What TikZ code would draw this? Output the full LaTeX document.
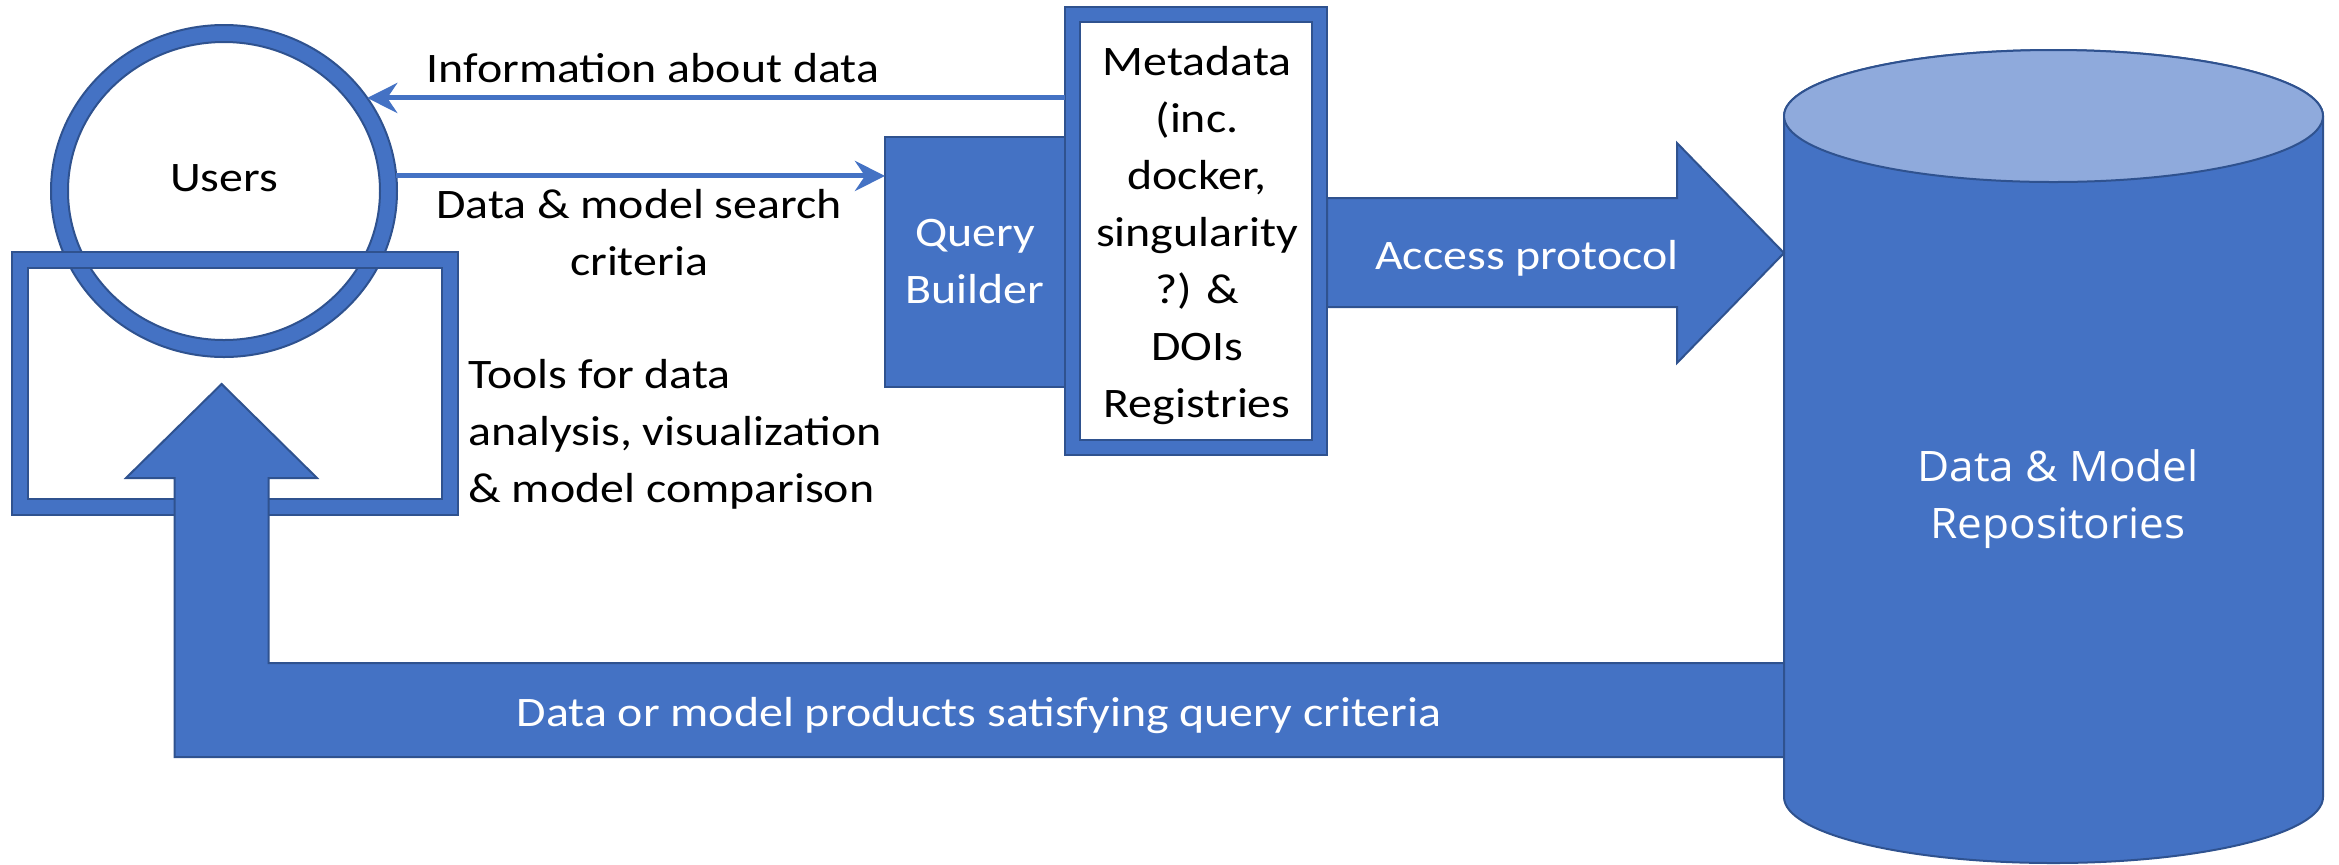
\documentclass[tikz,border=0pt]{standalone}
\usepackage{fontspec}
\setmainfont{Carlito}[FakeStretch=1.14]
\newfontfamily\segoefont{Open Sans}[FakeStretch=1.05]
\usetikzlibrary{arrows.meta,shapes.geometric,calc}
\definecolor{obl}{HTML}{4472C4}
\definecolor{odk}{HTML}{2F528F}
\definecolor{olt}{HTML}{8FAADC}
\begin{document}
\begin{tikzpicture}[x=0.5pt,y=-0.5pt,
  txt/.style={font=\fontsize{21}{28.5}\selectfont, align=center, inner sep=0pt},
  reptxt/.style={font=\segoefont\fontsize{21}{28.5}\selectfont, align=center, inner sep=0pt, text=white},
  thinarrow/.style={draw=obl, line width=2.5pt, -{Stealth[length=15pt,width=15pt,inset=5pt]}},
  blockshape/.style={fill=obl, draw=odk, line width=1pt},
  holder/.style={rectangle, inner sep=0pt, outer sep=0pt}
]
\useasboundingbox (0,0) rectangle (2339,864);

% Users ring
\node[ellipse, minimum width=173pt, minimum height=166pt, inner sep=0pt, outer sep=0pt] (users) at (224,191) {};
\draw[blockshape, even odd rule] (users.center) ellipse [x radius=86.5pt, y radius=83pt]
      (users.center) ellipse [x radius=78pt, y radius=74.5pt];

% Tools frame
\node[holder, minimum width=223.25pt, minimum height=131.5pt] (tools) at (234.75,383.5) {};
\draw[blockshape, even odd rule] (tools.north west) rectangle (tools.south east)
      ([shift={(16,16)}]tools.north west) rectangle ([shift={(-16,-16)}]tools.south east);

% Return block arrow
\coordinate (rettip) at (221.6,384);
\draw[blockshape, line join=miter] (rettip) -- (317,478) -- (268.7,478) -- (268.7,663) -- (1784,663)
      -- (1784,757) -- (174.5,757) -- (174.5,478) -- (126,478) -- cycle;

% Repository cylinder
\node[holder, minimum width=269.5pt, minimum height=407.5pt] (repo) at (2053.5,456.5) {};
\draw[blockshape] (1784,116) -- (1784,797) arc[start angle=180, end angle=360, x radius=134.75pt, y radius=33pt]
      -- (2323,116) arc[start angle=0, end angle=180, x radius=134.75pt, y radius=33pt] -- cycle;
\draw[fill=olt, draw=odk, line width=1pt] (2053.5,116) ellipse [x radius=134.75pt, y radius=33pt];

% Access protocol block arrow
\draw[blockshape, line join=miter] (1327,198) -- (1677,198) -- (1677,143) -- (1784,253) -- (1677,363)
      -- (1677,307) -- (1327,307) -- cycle;

% Query Builder
\node[blockshape, minimum width=90pt, minimum height=125pt, inner sep=0pt, outer sep=0pt,
      txt, text=white] (qb) at (975,262) {Query\\Builder};

% Metadata frame
\node[holder, minimum width=131pt, minimum height=224pt] (meta) at (1196,231) {};
\draw[blockshape, even odd rule] (meta.north west) rectangle (meta.south east)
      ([shift={(15,15)}]meta.north west) rectangle ([shift={(-15,-15)}]meta.south east);

% Thin arrows
\draw[thinarrow] (meta.west |- users.33) -- (users.33);
\draw[thinarrow] (users.5) -- (qb.west |- users.5);

% Texts
\node[txt] (userslbl) at (224,178) {Users};
\node[txt] (infolbl) at (653,68) {Information about data};
\node[txt] (searchlbl) at (639,233) {Data \& model search\\criteria};
\node[txt, align=left, anchor=west] (toolslbl) at (468,434) {Tools for data\\analysis, visualization\\\& model comparison};
\node[txt] (metalbl) at (1197,236) {Metadata\\(inc.\\docker,\\singularity\\?) \&\\DOIs\\Registries};
\node[txt, text=white] (accesslbl) at (1527,258) {Access protocol};
\node[txt, text=white] (retlbl) at (979,716) {Data or model products satisfying query criteria};
\node[reptxt] (repolbl) at (2058,499) {Data \& Model\\Repositories};
\end{tikzpicture}
\end{document}
